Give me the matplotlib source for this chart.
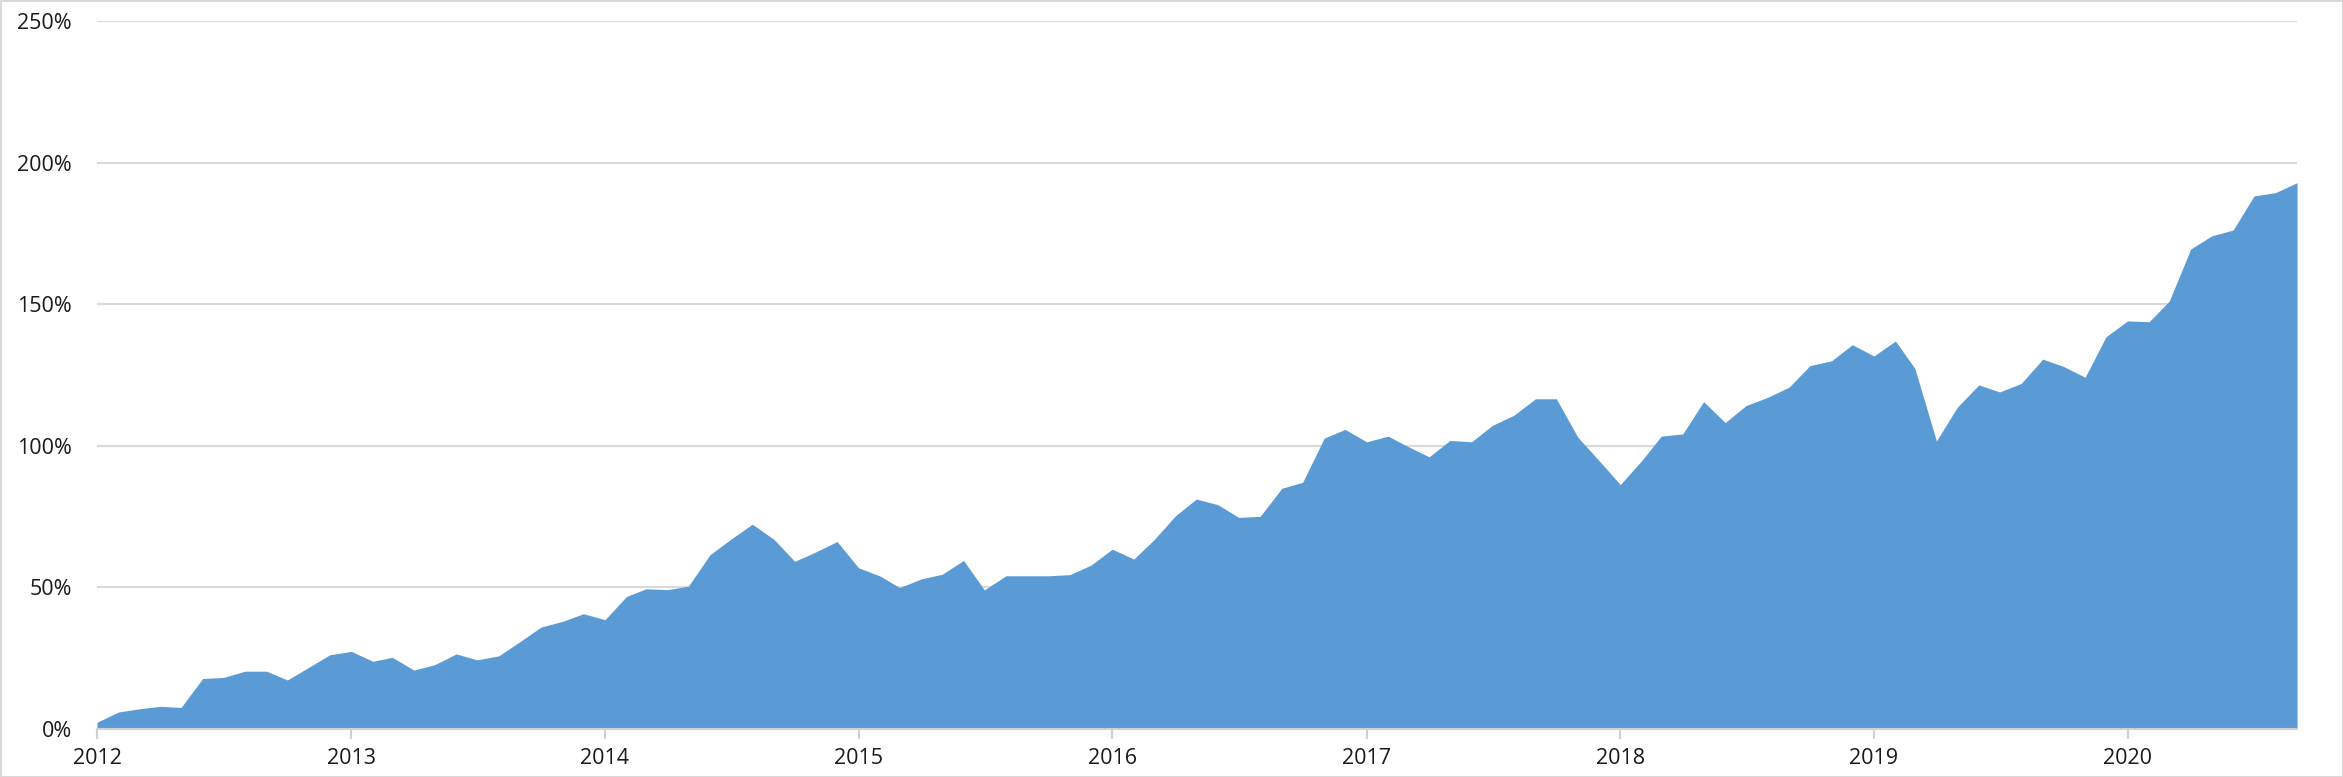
import matplotlib
matplotlib.use("Agg")
import matplotlib.pyplot as plt
import matplotlib.dates as mdates
from matplotlib.ticker import FuncFormatter
import pandas as pd

start_month = "2012-01"
values = [
    2.4, 6.0, 7.1, 8.0, 7.6, 17.8, 18.2, 20.4, 20.4, 17.3, 21.8, 26.2,
    27.4, 23.9, 25.3, 20.8, 22.7, 26.5, 24.4, 25.8, 30.9, 36.0, 38.0, 40.7,
    38.6, 46.8, 49.5, 49.2, 50.4, 61.5, 67.0, 72.3, 67.0, 59.2, 62.6, 66.2,
    56.9, 54.0, 49.9, 53.0, 54.6, 59.5, 49.1, 54.1, 54.1, 54.1, 54.5, 57.8,
    63.5, 60.0, 66.8, 75.3, 81.2, 79.2, 74.7, 75.1, 85.0, 87.1, 102.7, 105.8,
    101.4, 103.4, 99.8, 96.1, 101.9, 101.4, 107.2, 110.8, 116.6, 116.6, 103.0, 94.9,
    86.3, 94.8, 103.4, 104.2, 115.6, 108.2, 114.2, 117.1, 120.7, 128.3, 130.0, 135.7,
    131.7, 137.0, 127.3, 101.7, 113.6, 121.5, 119.0, 122.0, 130.6, 128.0, 124.2, 138.5,
    144.1, 143.8, 151.1, 169.5, 174.1, 176.2, 188.2, 189.4, 192.9,
]
y_ticks = [0, 50, 100, 150, 200, 250]
x_tick_years = list(range(2012, 2021))

dates = pd.date_range(start_month, periods=len(values), freq="MS")

plt.rcParams["font.family"] = ["Open Sans", "DejaVu Sans"]

fig = plt.figure(figsize=(23.43, 7.77), dpi=100)
fig.patch.set_facecolor("white")
fig.patch.set_edgecolor("#d9d9d9")
fig.patch.set_linewidth(2)

ax = fig.add_axes([0.0414, 0.0618, 0.9390, 0.9112])
ax.fill_between(dates, 0, values, color="#5B9BD5", linewidth=0, zorder=2)

ax.set_xlim(dates[0], dates[-1])
ax.set_ylim(0, 250)
ax.set_yticks(y_ticks)
ax.yaxis.set_major_formatter(FuncFormatter(lambda v, p: f"{int(v)}%"))
ax.set_xticks([pd.Timestamp(f"{y}-01-01") for y in x_tick_years])
ax.xaxis.set_major_formatter(mdates.DateFormatter("%Y"))

ax.grid(axis="y", color="#d9d9d9", linewidth=1.5, zorder=1)
ax.set_axisbelow(True)
for s in ["top", "right", "left"]:
    ax.spines[s].set_visible(False)
ax.spines["bottom"].set_color("#d0d0d0")
ax.spines["bottom"].set_linewidth(1.5)
ax.spines["bottom"].set_zorder(3)

ax.tick_params(axis="y", length=0, pad=18, labelsize=15.5, labelcolor="#1a1a1a")
ax.tick_params(axis="x", length=7, width=1.5, color="#d0d0d0", pad=7,
               labelsize=15.5, labelcolor="#1a1a1a")

fig.savefig("out.png", dpi=100, facecolor=fig.get_facecolor(),
            edgecolor=fig.get_edgecolor())
